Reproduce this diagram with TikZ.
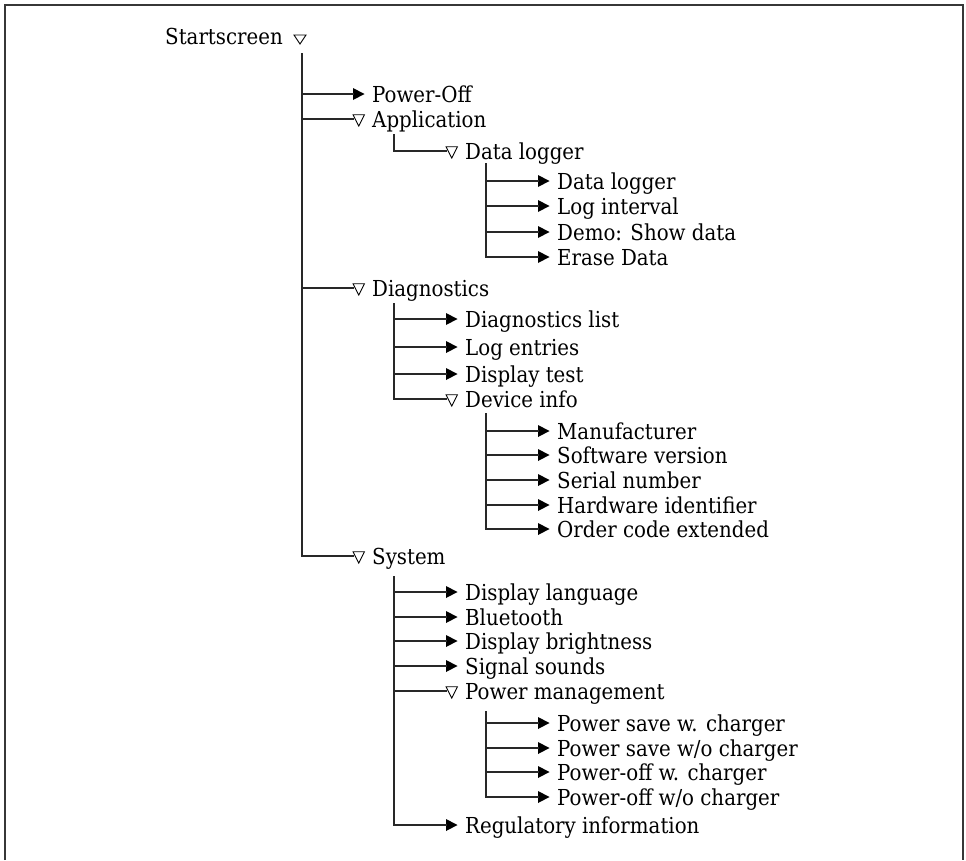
\documentclass[tikz,border=0pt]{standalone}
\usepackage{fontspec}
\setmainfont{DejaVu Serif Condensed}
\definecolor{linec}{RGB}{40,40,40}
\definecolor{framec}{RGB}{55,55,55}
\newcommand\menuitem[5]{%
  \coordinate (#1-m) at (#2,#3);
  \node[lbl] (#1) at (#2+19,#3+8) {#5};
  \ifx f#4
    \fill[black] (#2,#3-6) -- (#2+11.5,#3) -- (#2,#3+6) -- cycle;
  \else
    \draw[black, line width=0.9pt, line join=miter] (#2,#3-4.3) -- (#2+11.5,#3-4.3) -- (#2+5.75,#3+7) -- cycle;
  \fi
}
\begin{document}
\begin{tikzpicture}[x=1pt,y=-1pt,
  conn/.style={draw=linec, line width=1.3pt},
  lbl/.style={anchor=base west, inner sep=0pt, font=\fontsize{22}{22}\selectfont, text=black}]
\useasboundingbox (0,0) rectangle (966,860);
% frame (open at bottom)
\draw[framec, line width=2.2pt] (5,860) -- (5,5) -- (963,5) -- (963,860);
% root
\node[lbl, anchor=base east] (start) at (283,44) {Startscreen};
\draw[black, line width=0.9pt, line join=miter] (294,35) -- (306,35) -- (300,44) -- cycle;
\coordinate (start-s) at (302,53);
% level 1
\menuitem{poweroff}{353}{94}{f}{Power-Off}
\menuitem{app}{353}{119}{o}{Application}
\menuitem{diag}{353}{288}{o}{Diagnostics}
\menuitem{sys}{353}{556}{o}{System}
% level 2
\menuitem{dlg}{446}{151}{o}{Data logger}
\menuitem{dlist}{446}{319}{f}{Diagnostics list}
\menuitem{logent}{446}{347}{f}{Log entries}
\menuitem{disptest}{446}{374}{f}{Display test}
\menuitem{devinfo}{446}{399}{o}{Device info}
\menuitem{lang}{446}{592}{f}{Display language}
\menuitem{bt}{446}{617}{f}{Bluetooth}
\menuitem{bright}{446}{641}{f}{Display brightness}
\menuitem{sounds}{446}{666}{f}{Signal sounds}
\menuitem{pwr}{446}{691}{o}{Power management}
\menuitem{reg}{446}{825}{f}{Regulatory information}
% level 3
\menuitem{dl}{538}{181}{f}{Data logger}
\menuitem{logint}{538}{206}{f}{Log interval}
\menuitem{demo}{538}{232}{f}{Demo: Show data}
\menuitem{erase}{538}{257}{f}{Erase Data}
\menuitem{manu}{538}{431}{f}{Manufacturer}
\menuitem{sw}{538}{455}{f}{Software version}
\menuitem{serial}{538}{480}{f}{Serial number}
\menuitem{hw}{538}{505}{f}{Hardware identifier}
\menuitem{order}{538}{529}{f}{Order code extended}
\menuitem{ps1}{538}{723}{f}{Power save w. charger}
\menuitem{ps2}{538}{748}{f}{Power save w/o charger}
\menuitem{po1}{538}{772}{f}{Power-off w. charger}
\menuitem{po2}{538}{797}{f}{Power-off w/o charger}
% stems
\coordinate (app-s) at (394,134);
\coordinate (dlg-s) at (486,163);
\coordinate (diag-s) at (394,303);
\coordinate (dev-s) at (486,413);
\coordinate (sys-s) at (394,576);
\coordinate (pwr-s) at (486,711);
% connectors
\foreach \c in {poweroff,app,diag,sys} \draw[conn] (start-s) |- ([xshift=1pt]\c-m);
\draw[conn] (app-s) |- ([xshift=1pt]dlg-m);
\foreach \c in {dl,logint,demo,erase} \draw[conn] (dlg-s) |- ([xshift=1pt]\c-m);
\foreach \c in {dlist,logent,disptest,devinfo} \draw[conn] (diag-s) |- ([xshift=1pt]\c-m);
\foreach \c in {manu,sw,serial,hw,order} \draw[conn] (dev-s) |- ([xshift=1pt]\c-m);
\foreach \c in {lang,bt,bright,sounds,pwr,reg} \draw[conn] (sys-s) |- ([xshift=1pt]\c-m);
\foreach \c in {ps1,ps2,po1,po2} \draw[conn] (pwr-s) |- ([xshift=1pt]\c-m);
\end{tikzpicture}
\end{document}
